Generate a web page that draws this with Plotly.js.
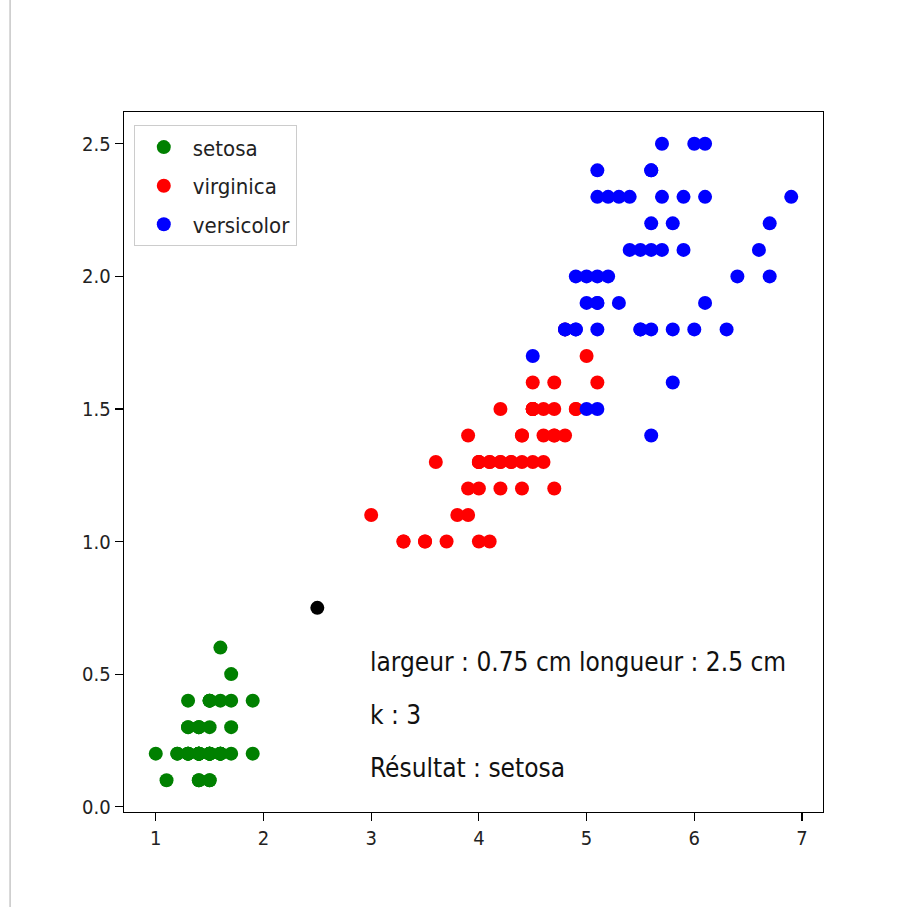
<!DOCTYPE html>
<html>
<head>
<meta charset="utf-8">
<script src="https://cdn.plot.ly/plotly-3.0.1.min.js"></script>
<style>html,body{margin:0;padding:0;background:#fff;}#chart{width:906px;height:907px;}</style>
</head>
<body>
<div id="chart"></div>
<script>
// Petal length (x) and width (y) per group
const setosaX = [1.4,1.4,1.3,1.5,1.4,1.7,1.4,1.5,1.4,1.5,1.5,1.6,1.4,1.1,1.2,1.5,1.3,1.4,1.7,1.5,1.7,1.5,1.0,1.7,1.9,1.6,1.6,1.5,1.4,1.6,1.6,1.5,1.5,1.4,1.5,1.2,1.3,1.4,1.3,1.5,1.3,1.3,1.3,1.6,1.9,1.4,1.6,1.4,1.5,1.4];
const setosaY = [0.2,0.2,0.2,0.2,0.2,0.4,0.3,0.2,0.2,0.1,0.2,0.2,0.1,0.1,0.2,0.4,0.4,0.3,0.3,0.3,0.2,0.4,0.2,0.5,0.2,0.2,0.4,0.2,0.2,0.2,0.2,0.4,0.1,0.2,0.2,0.2,0.2,0.1,0.2,0.2,0.3,0.3,0.2,0.6,0.4,0.3,0.2,0.2,0.2,0.2];

const virginicaX = [4.7,4.5,4.9,4.0,4.6,4.5,4.7,3.3,4.6,3.9,3.5,4.2,4.0,4.7,3.6,4.4,4.5,4.1,4.5,3.9,4.8,4.0,4.9,4.7,4.3,4.4,4.8,5.0,4.5,3.5,3.8,3.7,3.9,5.1,4.5,4.5,4.7,4.4,4.1,4.0,4.4,4.6,4.0,3.3,4.2,4.2,4.2,4.3,3.0,4.1];
const virginicaY = [1.4,1.5,1.5,1.3,1.5,1.3,1.6,1.0,1.3,1.4,1.0,1.5,1.0,1.4,1.3,1.4,1.5,1.0,1.5,1.1,1.8,1.3,1.5,1.2,1.3,1.4,1.4,1.7,1.5,1.0,1.1,1.0,1.2,1.6,1.5,1.6,1.5,1.3,1.3,1.3,1.2,1.4,1.2,1.0,1.3,1.2,1.3,1.3,1.1,1.3];

const versicolorX = [6.0,5.1,5.9,5.6,5.8,6.6,4.5,6.3,5.8,6.1,5.1,5.3,5.5,5.0,5.1,5.3,5.5,6.7,6.9,5.0,5.7,4.9,6.7,4.9,5.7,6.0,4.8,4.9,5.6,5.8,6.1,6.4,5.6,5.1,5.6,6.1,5.6,5.5,4.8,5.4,5.6,5.1,5.1,5.9,5.7,5.2,5.0,5.2,5.4,5.1];
const versicolorY = [2.5,1.9,2.1,1.8,2.2,2.1,1.7,1.8,1.8,2.5,2.0,1.9,2.1,2.0,2.4,2.3,1.8,2.2,2.3,1.5,2.3,2.0,2.0,1.8,2.1,1.8,1.8,1.8,2.1,1.6,1.9,2.0,2.2,1.5,1.4,2.3,2.4,1.8,1.8,2.1,2.4,2.3,1.9,2.3,2.5,2.3,1.9,2.0,2.3,1.8];

const queryX = [2.5];
const queryY = [0.75];

const groupNames = ["setosa", "virginica", "versicolor"];
const infoLines = ["largeur : 0.75 cm longueur : 2.5 cm", "k : 3", "Résultat : setosa"];
const infoX = 3;
const infoY = [0.5, 0.3, 0.1];

const xTicks = [1,2,3,4,5,6,7];
const yTicks = [0.0,0.5,1.0,1.5,2.0,2.5];

const FONT = "DejaVu Sans Condensed, DejaVu Sans, sans-serif";
const mk = (c) => ({color: c, size: 14, line: {width: 0}});

const traces = [
  {x: setosaX, y: setosaY, name: groupNames[0], legendgroup: "a", mode: "markers", type: "scatter", marker: mk("#008000")},
  {x: virginicaX, y: virginicaY, name: groupNames[1], legendgroup: "b", mode: "markers", type: "scatter", marker: mk("#ff0000")},
  {x: versicolorX, y: versicolorY, name: groupNames[2], legendgroup: "c", mode: "markers", type: "scatter", marker: mk("#0000ff")},
  {x: queryX, y: queryY, name: "query", mode: "markers", type: "scatter", marker: mk("#000000"), showlegend: false}
];

const axisCommon = {
  showgrid: false, zeroline: false, showline: true, mirror: true,
  linecolor: "#000", linewidth: 1.3, ticks: "outside", ticklen: 8, tickwidth: 1.2, tickcolor: "#000",
  tickfont: {family: FONT, size: 20, color: "#222"}
};

const layout = {
  width: 906, height: 907,
  margin: {l: 124, r: 83, t: 112, b: 95},
  paper_bgcolor: "#fff", plot_bgcolor: "#fff",
  showlegend: true,
  xaxis: Object.assign({}, axisCommon, {range: [0.705, 7.195], tickvals: xTicks, ticktext: xTicks.map(String)}),
  yaxis: Object.assign({}, axisCommon, {range: [-0.02, 2.62], tickvals: yTicks, ticktext: yTicks.map(v => v.toFixed(1))}),
  legend: {
    x: 0.014, y: 0.981, xanchor: "left", yanchor: "top",
    bgcolor: "rgba(255,255,255,0.8)", bordercolor: "#cccccc", borderwidth: 1,
    tracegroupgap: 7, itemwidth: 48,
    font: {family: FONT, size: 22, color: "#222"}
  },
  annotations: infoLines.map((t, i) => ({
    x: infoX, y: infoY[i], xref: "x", yref: "y", text: t, showarrow: false,
    xanchor: "left", yanchor: "middle", yshift: 12, xshift: -3,
    font: {family: FONT, size: 26, color: "#111"}
  })),
  shapes: [{type: "line", xref: "paper", yref: "paper", x0: -0.163, x1: -0.163, y0: -0.136, y1: 1.16,
            line: {color: "#aaaaaa", width: 1}}]
};

Plotly.newPlot("chart", traces, layout, {displayModeBar: false, staticPlot: true});
</script>
</body>
</html>
